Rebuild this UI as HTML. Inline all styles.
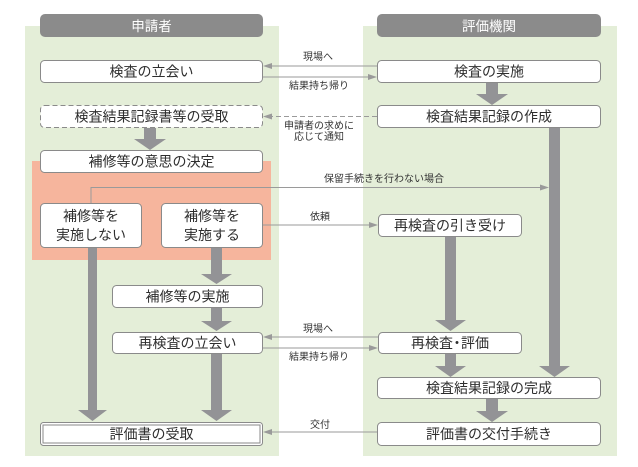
<!DOCTYPE html>
<html><head><meta charset="utf-8">
<style>
html,body{margin:0;padding:0;background:#fff;}
svg{display:block;}
text{font-family:"Liberation Sans","Noto Sans CJK JP",sans-serif;}
.bx{fill:#fff;stroke:#8a8a8a;stroke-width:1;}
.t{font-size:14px;fill:#2e2e2e;text-anchor:middle;}
.s{font-size:10px;fill:#333;text-anchor:middle;}
.ln{stroke:#9a9a9a;stroke-width:1;fill:none;}
.ah{fill:#9a9a9a;}
.ar{fill:#939396;}
</style></head>
<body>
<svg width="638" height="467" viewBox="0 0 638 467" xmlns="http://www.w3.org/2000/svg">
<!-- panels -->
<rect x="25" y="26" width="254" height="430" fill="#e4eed8"/>
<rect x="363" y="26" width="254" height="430" fill="#e4eed8"/>
<rect x="32" y="161" width="239" height="99" fill="#f6b59d"/>
<!-- headers -->
<rect x="40" y="14" width="223" height="23" rx="5" fill="#8b8b8b"/>
<text x="151.5" y="31" font-size="13.5" fill="#fff" text-anchor="middle">申請者</text>
<rect x="377" y="14" width="224" height="23" rx="5" fill="#8b8b8b"/>
<text x="489" y="31" font-size="13.5" fill="#fff" text-anchor="middle">評価機関</text>

<!-- thick arrows -->
<polygon class="ar" points="144,128 156,128 156,139 166,139 150,150 134,139 144,139"/>
<polygon class="ar" points="211,248 222,248 222,274 232,274 216.5,284 201,274 211,274"/>
<polygon class="ar" points="211,308 222,308 222,321 232,321 216.5,331 201,321 211,321"/>
<polygon class="ar" points="211,354 222,354 222,410 232,410 216.5,421 201,410 211,410"/>
<polygon class="ar" points="88,248 97,248 97,410 107,410 92.5,421 78,410 88,410"/>
<polygon class="ar" points="486,82 498,82 498,94 508,94 492,105 476,94 486,94"/>
<polygon class="ar" points="549,128 560,128 560,366 570,366 554.5,377 539,366 549,366"/>
<polygon class="ar" points="445,237 456,237 456,320 466,320 450.5,331 435,320 445,320"/>
<polygon class="ar" points="445,354 456,354 456,366 466,366 450.5,377 435,366 445,366"/>
<polygon class="ar" points="486,399 498,399 498,411 508,411 492,422 476,411 486,411"/>

<!-- thin connectors -->
<line class="ln" x1="377" y1="66" x2="270" y2="66"/>
<polygon class="ah" points="263,66 272,63 272,69"/>
<line class="ln" x1="263" y1="77" x2="370" y2="77"/>
<polygon class="ah" points="377,77 368,74 368,80"/>
<text class="s" x="318" y="60">現場へ</text>
<text class="s" x="319" y="89">結果持ち帰り</text>

<line class="ln" x1="377" y1="116.5" x2="270" y2="116.5" stroke-dasharray="5,3"/>
<polygon class="ah" points="263,116.5 272,113.5 272,119.5"/>
<text class="s" x="319" y="129">申請者の求めに</text>
<text class="s" x="319" y="140">応じて通知</text>

<polyline class="ln" points="91,203 91,187.5 541,187.5"/>
<polygon class="ah" points="549,187.5 540,184.5 540,190.5"/>
<text class="s" x="384" y="182">保留手続きを行わない場合</text>

<line class="ln" x1="263" y1="225" x2="371" y2="225"/>
<polygon class="ah" points="378,225 369,222 369,228"/>
<text class="s" x="320" y="220">依頼</text>

<line class="ln" x1="378" y1="337" x2="270" y2="337"/>
<polygon class="ah" points="263,337 272,334 272,340"/>
<line class="ln" x1="263" y1="348" x2="371" y2="348"/>
<polygon class="ah" points="378,348 369,345 369,351"/>
<text class="s" x="318" y="332">現場へ</text>
<text class="s" x="319" y="360">結果持ち帰り</text>

<line class="ln" x1="377" y1="432" x2="270" y2="432"/>
<polygon class="ah" points="263,432 272,429 272,435"/>
<text class="s" x="320" y="428">交付</text>

<!-- left boxes -->
<rect class="bx" x="40.5" y="60.5" width="222" height="22" rx="4"/>
<text class="t" x="151.5" y="76.5">検査の立会い</text>
<rect class="bx" x="40.5" y="105.5" width="222" height="22" rx="4" stroke-dasharray="5,3"/>
<text class="t" x="151.5" y="121.5">検査結果記録書等の受取</text>
<rect class="bx" x="40.5" y="150.5" width="222" height="22" rx="4"/>
<text class="t" x="151.5" y="166.5">補修等の意思の決定</text>
<rect class="bx" x="40.5" y="203.5" width="101" height="44" rx="4"/>
<text class="t" x="91" y="221">補修等を</text>
<text class="t" x="91" y="240">実施しない</text>
<rect class="bx" x="161.5" y="203.5" width="101" height="44" rx="4"/>
<text class="t" x="212" y="221">補修等を</text>
<text class="t" x="212" y="240">実施する</text>
<rect class="bx" x="112.5" y="285.5" width="150" height="22" rx="4"/>
<text class="t" x="187.5" y="301.5">補修等の実施</text>
<rect class="bx" x="112.5" y="332.5" width="150" height="21" rx="4"/>
<text class="t" x="187.5" y="348">再検査の立会い</text>
<rect class="bx" x="40.5" y="422.5" width="222" height="23" rx="3"/>
<rect x="43" y="425" width="217" height="18" fill="none" stroke="#8a8a8a" stroke-width="1"/>
<text class="t" x="151.5" y="439">評価書の受取</text>

<!-- right boxes -->
<rect class="bx" x="377.5" y="60.5" width="223" height="22" rx="4"/>
<text class="t" x="489" y="76.5">検査の実施</text>
<rect class="bx" x="377.5" y="105.5" width="223" height="22" rx="4"/>
<text class="t" x="489" y="121.5">検査結果記録の作成</text>
<rect class="bx" x="378.5" y="214.5" width="143" height="22" rx="4"/>
<text class="t" x="450" y="230.5">再検査の引き受け</text>
<rect class="bx" x="378.5" y="332.5" width="143" height="21" rx="4"/>
<text class="t" x="450" y="348">再検査<tspan dx="-3">・</tspan><tspan dx="-3">評価</tspan></text>
<rect class="bx" x="377.5" y="377.5" width="223" height="21" rx="4"/>
<text class="t" x="489" y="393">検査結果記録の完成</text>
<rect class="bx" x="377.5" y="422.5" width="223" height="23" rx="4"/>
<text class="t" x="489" y="439">評価書の交付手続き</text>
</svg>
</body></html>
